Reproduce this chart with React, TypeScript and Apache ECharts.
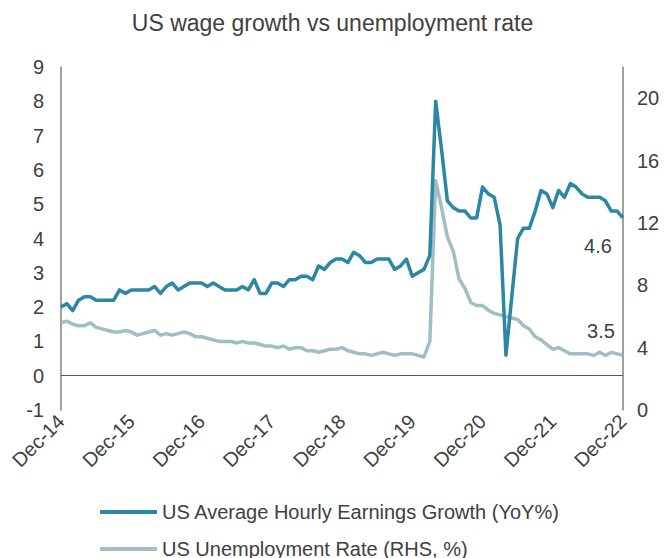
import React, { useEffect, useRef } from "react";
import * as echarts from "echarts";

const MONTHS = ["Jan", "Feb", "Mar", "Apr", "May", "Jun", "Jul", "Aug", "Sep", "Oct", "Nov", "Dec"];
const categories: string[] = ["Dec-14"];
for (let y = 15; y <= 22; y++) {
  for (const m of MONTHS) categories.push(`${m}-${y}`);
}

const earningsGrowth = [
  2.0, 2.1, 1.9, 2.2, 2.3, 2.3, 2.2, 2.2, 2.2, 2.2, 2.5, 2.4,
  2.5, 2.5, 2.5, 2.5, 2.6, 2.4, 2.6, 2.7, 2.5, 2.6, 2.7, 2.7,
  2.7, 2.6, 2.7, 2.6, 2.5, 2.5, 2.5, 2.6, 2.5, 2.8, 2.4, 2.4,
  2.7, 2.7, 2.6, 2.8, 2.8, 2.9, 2.9, 2.8, 3.2, 3.1, 3.3, 3.4,
  3.4, 3.3, 3.6, 3.5, 3.3, 3.3, 3.4, 3.4, 3.4, 3.1, 3.2, 3.4,
  2.9, 3.0, 3.1, 3.5, 8.0, 6.6, 5.1, 4.9, 4.8, 4.8, 4.6, 4.6,
  5.5, 5.3, 5.2, 4.4, 0.6, 2.3, 4.0, 4.3, 4.3, 4.8, 5.4, 5.3,
  4.9, 5.4, 5.2, 5.6, 5.5, 5.3, 5.2, 5.2, 5.2, 5.1, 4.8, 4.8,
  4.6,
];

const unemploymentRate = [
  5.6, 5.7, 5.5, 5.4, 5.4, 5.6, 5.3, 5.2, 5.1, 5.0, 5.0, 5.1,
  5.0, 4.8, 4.9, 5.0, 5.1, 4.8, 4.9, 4.8, 4.9, 5.0, 4.9, 4.7,
  4.7, 4.6, 4.5, 4.4, 4.4, 4.4, 4.3, 4.4, 4.3, 4.3, 4.2, 4.1,
  4.1, 4.0, 4.1, 3.9, 4.0, 4.0, 3.8, 3.8, 3.7, 3.8, 3.9, 3.9,
  4.0, 3.8, 3.7, 3.6, 3.6, 3.5, 3.6, 3.7, 3.6, 3.5, 3.6, 3.6,
  3.6, 3.5, 3.4, 4.4, 14.7, 13.0, 11.1, 10.2, 8.4, 7.8, 6.9, 6.7,
  6.7, 6.4, 6.2, 6.1, 6.0, 5.9, 5.8, 5.4, 5.2, 4.7, 4.5, 4.2,
  3.9, 4.0, 3.8, 3.6, 3.6, 3.6, 3.6, 3.5, 3.7, 3.5, 3.7, 3.6,
  3.5,
];

const seriesNames = ["US Average Hourly Earnings Growth (YoY%)", "US Unemployment Rate (RHS, %)"];
const leftTicks = { min: -1, max: 9, interval: 1 };
const rightTicks = { min: 0, max: 22, interval: 4 };

const FONT = "'Liberation Sans', Arial, sans-serif";
const TEXT = "#404040";
const TEAL = "#2C87A4";
const LIGHT = "#A0BEC3";

const legendBase = {
  orient: "vertical",
  left: 100,
  padding: 0,
  itemWidth: 57,
  itemHeight: 4,
  icon: "rect",
  textStyle: { fontSize: 20, color: TEXT, fontFamily: FONT },
};

export default function App() {
  const ref = useRef<HTMLDivElement>(null);
  useEffect(() => {
    if (!ref.current) return;
    const chart = echarts.init(ref.current, undefined, { renderer: "svg" });
    const last = categories.length - 1;
    chart.setOption({
      animation: false,
      backgroundColor: "#ffffff",
      textStyle: { fontFamily: FONT },
      title: {
        text: "US wage growth vs unemployment rate",
        left: "center",
        top: 11,
        padding: 0,
        textStyle: { fontSize: 23, fontWeight: "normal", color: TEXT, fontFamily: FONT },
      },
      grid: { left: 61, right: 42, top: 67, bottom: 148, containLabel: false },
      legend: [
        { ...legendBase, top: 502, data: [seriesNames[0]] },
        { ...legendBase, top: 539, data: [seriesNames[1]] },
      ],
      xAxis: {
        type: "category",
        data: categories,
        boundaryGap: false,
        axisLine: { show: false },
        axisTick: { show: false },
        splitLine: { show: false },
        axisLabel: {
          interval: 11,
          rotate: 45,
          margin: 8,
          fontSize: 20,
          color: TEXT,
          fontFamily: FONT,
        },
      },
      yAxis: [
        {
          type: "value",
          ...leftTicks,
          position: "left",
          axisLine: { show: true, lineStyle: { color: "#808080", width: 1.5 } },
          axisTick: { show: false },
          splitLine: { show: false },
          axisLabel: { fontSize: 20, color: TEXT, margin: 17, fontFamily: FONT },
        },
        {
          type: "value",
          ...rightTicks,
          position: "right",
          axisLine: { show: true, lineStyle: { color: "#808080", width: 1.5 } },
          axisTick: { show: false },
          splitLine: { show: false },
          axisLabel: {
            fontSize: 20,
            color: TEXT,
            margin: 14,
            fontFamily: FONT,
            showMaxLabel: false,
            formatter: (v: number) => (v === rightTicks.max ? "" : String(v)),
          },
        },
      ],
      series: [
        {
          name: seriesNames[0],
          type: "line",
          yAxisIndex: 0,
          data: earningsGrowth,
          showSymbol: false,
          symbol: "none",
          color: TEAL,
          lineStyle: { color: TEAL, width: 3.5, join: "round" },
          z: 3,
          markLine: {
            silent: true,
            symbol: "none",
            label: { show: false },
            lineStyle: { color: "#595959", width: 1.2, type: "solid" },
            data: [{ yAxis: 0 }],
          },
          markPoint: {
            symbol: "rect",
            symbolSize: 1,
            itemStyle: { color: "rgba(0,0,0,0)" },
            label: {
              show: true,
              position: "inside",
              offset: [-25, 28],
              fontSize: 20,
              color: TEXT,
              fontFamily: FONT,
              formatter: () => earningsGrowth[last].toFixed(1),
            },
            data: [{ coord: [categories[last], earningsGrowth[last]] }],
          },
        },
        {
          name: seriesNames[1],
          type: "line",
          yAxisIndex: 1,
          data: unemploymentRate,
          showSymbol: false,
          symbol: "none",
          color: LIGHT,
          lineStyle: { color: LIGHT, width: 3.5, join: "round" },
          z: 2,
          markPoint: {
            symbol: "rect",
            symbolSize: 1,
            itemStyle: { color: "rgba(0,0,0,0)" },
            label: {
              show: true,
              position: "inside",
              offset: [-22, -24],
              fontSize: 20,
              color: TEXT,
              fontFamily: FONT,
              formatter: () => unemploymentRate[last].toFixed(1),
            },
            data: [{ coord: [categories[last], unemploymentRate[last]] }],
          },
        },
      ],
    });
    return () => chart.dispose();
  }, []);
  return (
    <div
      ref={ref}
      style={{ position: "fixed", left: 0, top: 0, width: 665, height: 558, background: "#fff" }}
    />
  );
}
